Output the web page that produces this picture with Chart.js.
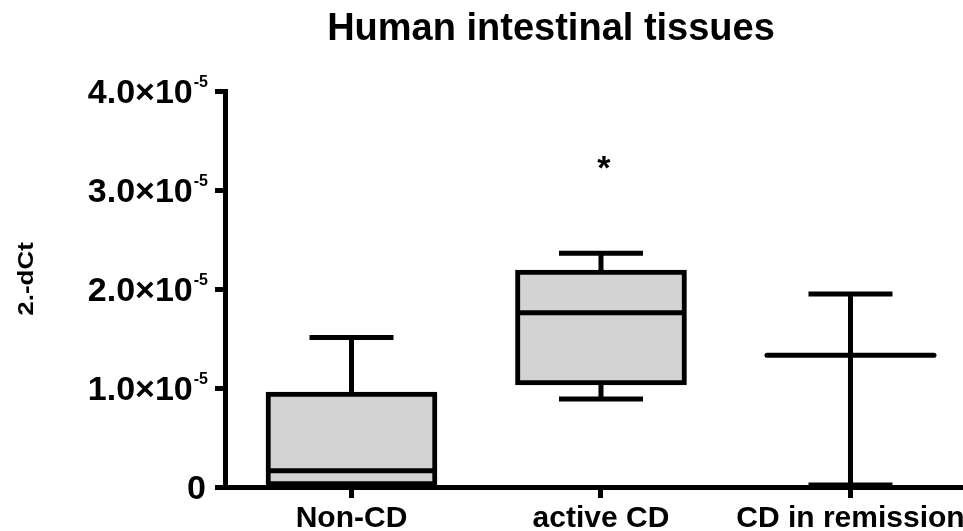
<!DOCTYPE html>
<html>
<head>
<meta charset="utf-8">
<script src="https://cdn.jsdelivr.net/npm/chart.js@4.4.1/dist/chart.umd.min.js"></script>
<style>
  html, body { margin: 0; padding: 0; background: #fff; }
  #wrap { width: 963px; height: 531px; }
</style>
</head>
<body>
<div id="wrap"><canvas id="chart" width="963" height="531"></canvas></div>
<script>
// Human intestinal tissues - box & whisker (2.-dCt)

const categories = ['Non-CD', 'active CD', 'CD in remission'];
const whiskerMin = [0.0, 0.89e-5, 0.02e-5];
const boxLow = [0.01e-5, 1.03e-5, null];
const medians = [0.165e-5, 1.76e-5, 1.33e-5];
const boxHigh = [0.96e-5, 2.19e-5, null];
const whiskerMax = [1.51e-5, 2.36e-5, 1.95e-5];

const yTicks = [0, 1e-5, 2e-5, 3e-5, 4e-5];
const yTickMain = ['0', '1.0×10', '2.0×10', '3.0×10', '4.0×10'];
const yTickSup = ['', '-5', '-5', '-5', '-5'];

const sigMarks = ['', '*', ''];
const sigY = [null, 3.11e-5, null];

const FONT = '"Liberation Sans", Arial, sans-serif';
const BOX_W = 171;

function drawText(ctx, text, x, y, size, align, sx) {
    ctx.save();
    ctx.font = `bold ${size}px ${FONT}`;
    ctx.fillStyle = '#000';
    ctx.textBaseline = 'alphabetic';
    ctx.textAlign = align || 'center';
    ctx.translate(x, y);
    ctx.scale(sx || 1, 1);
    ctx.fillText(text, 0, 0);
    ctx.restore();
}

function seg(ctx, x1, y1, x2, y2) {
    ctx.beginPath();
    ctx.moveTo(x1, y1);
    ctx.lineTo(x2, y2);
    ctx.stroke();
}

const boxPlugin = {
    id: 'boxWhiskers',
    beforeDatasetsDraw(chart) {
        // whiskers go under the boxes
        const { ctx, scales: { x, y } } = chart;
        ctx.save();
        ctx.strokeStyle = '#000';
        ctx.lineWidth = 5;
        ctx.lineCap = 'butt';
        categories.forEach((c, i) => {
            const px = x.getPixelForValue(i);
            const top = boxHigh[i] != null ? boxHigh[i] : medians[i];
            const bot = boxLow[i] != null ? boxLow[i] : medians[i];
            seg(ctx, px, y.getPixelForValue(top), px, y.getPixelForValue(whiskerMax[i]));
            seg(ctx, px, y.getPixelForValue(bot), px, y.getPixelForValue(whiskerMin[i]));
            seg(ctx, px - 42, y.getPixelForValue(whiskerMax[i]), px + 42, y.getPixelForValue(whiskerMax[i]));
            seg(ctx, px - 42, y.getPixelForValue(whiskerMin[i]), px + 42, y.getPixelForValue(whiskerMin[i]));
        });
        ctx.restore();
    },
    afterDatasetsDraw(chart) {
        const { ctx, scales: { x, y } } = chart;
        ctx.save();
        ctx.strokeStyle = '#000';
        ctx.lineWidth = 5;
        categories.forEach((c, i) => {
            const px = x.getPixelForValue(i);
            const py = y.getPixelForValue(medians[i]);
            const hasBox = boxHigh[i] != null;
            ctx.lineCap = hasBox ? 'butt' : 'round';
            const half = hasBox ? BOX_W / 2 - 4 : BOX_W / 2 - 2;
            seg(ctx, px - half, py, px + half, py);
            if (sigMarks[i]) {
                drawText(ctx, sigMarks[i], px + 3, y.getPixelForValue(sigY[i]), 34);
            }
        });
        ctx.restore();
    },
    afterDraw(chart) {
        const { ctx, scales: { x, y } } = chart;
        // title
        drawText(ctx, 'Human intestinal tissues', 551, 40, 38);

        // y tick labels with superscript exponent
        yTicks.forEach((v, i) => {
            const py = y.getPixelForValue(v);
            ctx.save();
            ctx.font = `bold 16px ${FONT}`;
            const supW = yTickSup[i] ? ctx.measureText(yTickSup[i]).width : 0;
            ctx.restore();
            const right = 208;
            if (yTickSup[i]) {
                drawText(ctx, yTickMain[i], right - supW - 1, py + 12, 34, 'right');
                drawText(ctx, yTickSup[i], right - supW, py - 4, 16, 'left');
            } else {
                drawText(ctx, yTickMain[i], 206, py + 12, 34, 'right');
            }
        });

        // x tick labels
        categories.forEach((c, i) => {
            drawText(ctx, c, x.getPixelForValue(i), 527, 30);
        });

        // y axis title
        ctx.save();
        ctx.translate(33, 279);
        ctx.rotate(-Math.PI / 2);
        ctx.scale(1.18, 1);
        ctx.font = `bold 22px ${FONT}`;
        ctx.fillStyle = '#000';
        ctx.textAlign = 'center';
        ctx.textBaseline = 'alphabetic';
        ctx.fillText('2.-dCt', 0, 0);
        ctx.restore();
    }
};

const boxData = categories.map((c, i) => ({
    x: i,
    y: boxLow[i] != null ? [boxLow[i], boxHigh[i]] : null
}));

new Chart(document.getElementById('chart'), {
    type: 'bar',
    data: {
        datasets: [{
            label: '2.-dCt',
            data: boxData,
            backgroundColor: '#d3d3d3',
            borderColor: '#000',
            borderWidth: 5,
            borderSkipped: false,
            barThickness: BOX_W
        }]
    },
    options: {
        responsive: false,
        animation: false,
        layout: { padding: { top: 91, right: 0, left: 0, bottom: 0 } },
        plugins: {
            legend: { display: false },
            tooltip: { enabled: false },
            title: { display: false }
        },
        scales: {
            x: {
                type: 'linear',
                offset: false,
                min: -0.507,
                max: 2.451,
                afterBuildTicks: s => { s.ticks = categories.map((c, i) => ({ value: i })); },
                afterFit: s => { s.height = 44; },
                ticks: { display: false },
                grid: { offset: false, drawOnChartArea: false, drawTicks: true, tickLength: 11, color: '#000', lineWidth: 5 },
                border: { display: true, color: '#000', width: 5 }
            },
            y: {
                min: 0,
                max: 4e-5,
                afterBuildTicks: s => { s.ticks = yTicks.map(v => ({ value: v })); },
                afterFit: s => { s.width = 225; },
                ticks: { display: false },
                grid: { drawOnChartArea: false, drawTicks: true, tickLength: 10, color: '#000', lineWidth: 5 },
                border: { display: true, color: '#000', width: 5 }
            }
        }
    },
    plugins: [boxPlugin]
});
</script>
</body>
</html>
